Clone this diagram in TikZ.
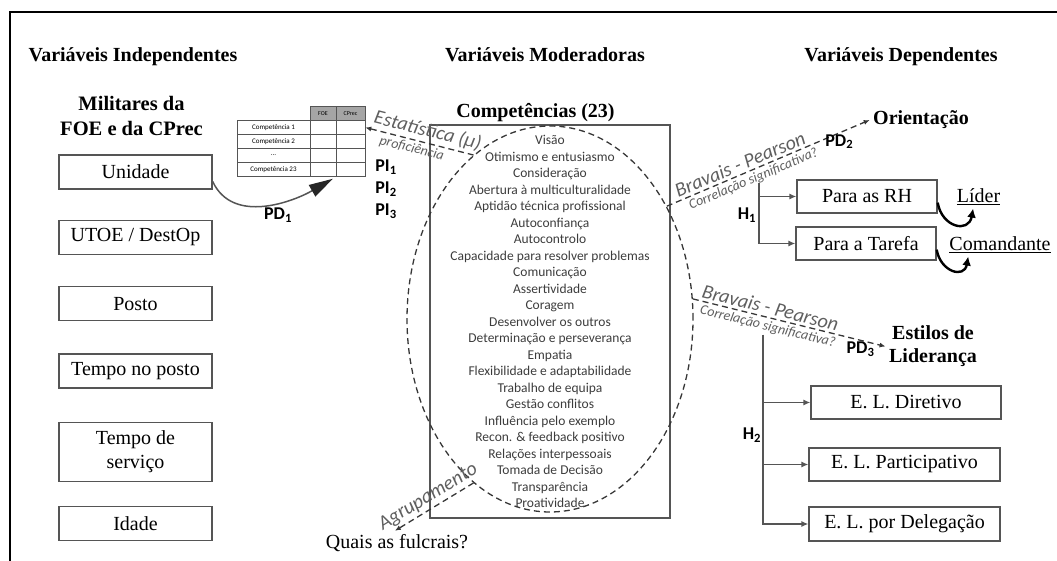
\documentclass[tikz,border=0pt]{standalone}
\usepackage{fontspec}
\setmainfont{Liberation Serif}
\newfontfamily\carlito{Carlito}
\usepackage{tikz}
\usetikzlibrary{arrows.meta,positioning,shapes.geometric,matrix}
\definecolor{boxgray}{RGB}{85,85,85}
\definecolor{dashgray}{RGB}{55,55,55}
\definecolor{wagray}{RGB}{95,95,95}
\definecolor{listgray}{RGB}{60,60,60}
\definecolor{hdrgray}{RGB}{165,165,165}

\begin{document}
\begin{tikzpicture}[x=1pt,y=1pt,
  every node/.style={font=\fontsize{20}{22}\selectfont},
  head/.style={font=\fontsize{20}{23}\selectfont\bfseries},
  box/.style={draw=boxgray,line width=1.3,minimum width=153,minimum height=34,inner sep=2},
  idx/.style={font=\carlito\bfseries\fontsize{18}{18}\selectfont},
  wa/.style={font=\carlito\itshape\fontsize{20}{20}\selectfont,text=wagray,sloped,inner sep=2.5},
  wasmall/.style={font=\carlito\itshape\fontsize{14}{14}\selectfont,text=wagray,sloped,inner sep=2.5},
  dline/.style={draw=dashgray,line width=1.3,dash pattern=on 6pt off 4pt,-{Latex[length=6pt,width=5pt]}},
  arr/.style={draw=boxgray,line width=1.3,-{Latex[length=7pt,width=6pt]}},
  bigarr/.style={draw=boxgray,line width=1.5,-{Triangle[length=24pt,width=13pt,color=black!85]}},
  turn/.style={line width=2.4,-{Latex[length=9pt,width=9pt]}}]
\useasboundingbox (0,0) rectangle (1057,561);
\draw[line width=2.5] (1057,549) -- (10,549) -- (10,0);

% column headings
\node[head,anchor=base] (hind) at (133,499.5) {Variáveis Independentes};
\node[head,anchor=base] (hmod) at (545,499.5) {Variáveis Moderadoras};
\node[head,anchor=base] (hdep) at (901,499.5) {Variáveis Dependentes};

% independent variables
\node[head,align=center,font=\fontsize{20.5}{25}\selectfont\bfseries] (mil) at (131.5,445.5) {Militares da\\FOE e da CPrec};
\node[box] (uni) at (135.5,389) {Unidade};
\node[box,below=30pt of uni] (utoe) {UTOE / DestOp};
\node[box,below=31pt of utoe] (posto) {Posto};
\node[box,below=32pt of posto] (tpos) {Tempo no posto};
\node[box,below=33pt of tpos,minimum height=59,align=center,font=\fontsize{20}{24}\selectfont] (tserv) {Tempo de\\serviço};
\node[box,below=24pt of tserv] (idade) {Idade};

% proficiency table
\matrix (tab) [matrix of nodes,nodes in empty cells,column sep=-0.6pt,row sep=-0.6pt,
  nodes={draw=boxgray,line width=0.6,minimum height=14,inner sep=0,anchor=center,font=\carlito\fontsize{7}{8}\selectfont},
  column 1/.style={nodes={minimum width=73}},
  column 2/.style={nodes={minimum width=26}},
  column 3/.style={nodes={minimum width=29}},
  row 1/.style={nodes={fill=hdrgray,font=\carlito\fontsize{6}{7}\selectfont}},
  row 1 column 1/.style={nodes={draw=none,fill=none}}] at (301,419.5) {
  & FOE & CPrec \\
  Competência 1 & & \\
  Competência 2 & & \\
  \dots & & \\
  Competência 23 & & \\
};
\draw[bigarr,shorten >=4pt] (uni.-7) to[out=-65,in=210] (tab-5-2.south east);
\node[idx] (pd1) at (278,346) {PD\textsubscript{1}};
\node[idx] (pi1) at (386,394) {PI\textsubscript{1}};
\node[idx] (pi2) at (386,372) {PI\textsubscript{2}};
\node[idx] (pi3) at (386,350) {PI\textsubscript{3}};

% moderators
\node[head] (comptit) at (535.5,448) {Competências (23)};
\node[draw=boxgray,line width=1.3,minimum width=240,minimum height=393,align=center,text=listgray,
  font=\carlito\fontsize{13.5}{16.5}\selectfont] (comp) at (550,239.5) {Visão\\Otimismo e entusiasmo\\Consideração\\Abertura à multiculturalidade\\Aptidão técnica profissional\\Autoconfiança\\Autocontrolo\\Capacidade para resolver problemas\\Comunicação\\Assertividade\\Coragem\\Desenvolver os outros\\Determinação e perseverança\\Empatia\\Flexibilidade e adaptabilidade\\Trabalho de equipa\\Gestão conflitos\\Influência pelo exemplo\\Recon. \& feedback positivo\\Relações interpessoais\\Tomada de Decisão\\Transparência\\Proatividade};
\node[ellipse,draw=dashgray,line width=1.3,dash pattern=on 6pt off 4pt,minimum width=286,minimum height=386,inner sep=0] (grp) at (550,242) {};
\node (fulc) at (397,18) {Quais as fulcrais?};

% dependent variables
\node[head] (ori) at (921,441) {Orientação};
\node[box,minimum width=140,minimum height=33] (rh) at (867,364.5) {Para as RH};
\node[box,minimum width=140,minimum height=33] (tar) at (866,317.5) {Para a Tarefa};
\node (lid) at (978.5,364) {\underline{Líder}};
\node (com) at (1000,316) {\underline{Comandante}};
\node[head,align=center] (est) at (933,214.5) {Estilos de\\Liderança};
\node[box,minimum width=190,minimum height=33] (eld) at (906,158.5) {E. L. Diretivo};
\node[box,minimum width=191,minimum height=33] (elp) at (904.5,96.5) {E. L. Participativo};
\node[box,minimum width=191,minimum height=34] (elg) at (904.5,37) {E. L. por Delegação};

% dashed links
\draw[dline] (grp.115) -- node[wa,above,pos=.45] {Estatística (μ)} node[wasmall,below,pos=.55] {proficiência} (tab-2-3.east);
\draw[dline] (grp.44) -- node[wa,above,pos=.38] {Bravais - Pearson} node[wasmall,below,pos=.41] {Correlação significativa?} node[idx,below,pos=.85,inner sep=1] {PD\textsubscript{2}} (ori.west);
\draw[dline] (grp.8) -- node[wa,above,pos=.39] {Bravais - Pearson} node[wasmall,below,pos=.4] {Correlação significativa?} node[idx,below,pos=.87,inner sep=1] {PD\textsubscript{3}} (est.west);
\draw[dline] (grp.245) -- node[wa,above,pos=.5] {Agrupamento} (fulc.100);

% hypotheses
\coordinate (h1) at (759,378);
\draw[arr] (h1) |- (rh.west);
\draw[arr] (h1) |- (tar.west);
\node[idx] (h1lab) at (747,346) {H\textsubscript{1}};
\coordinate (h2) at (763,226);
\draw[arr] (h2) |- (eld.west);
\draw[arr] (h2) |- (elp.west);
\draw[arr] (h2) |- (elg.west);
\node[idx] (h2lab) at (752,126) {H\textsubscript{2}};
\draw[turn] (rh.-5) to[out=-80,in=-100,looseness=1.8] (lid.-115);
\draw[turn] (tar.-5) to[out=-80,in=-100,looseness=1.8] (com.-160);
\end{tikzpicture}
\end{document}
